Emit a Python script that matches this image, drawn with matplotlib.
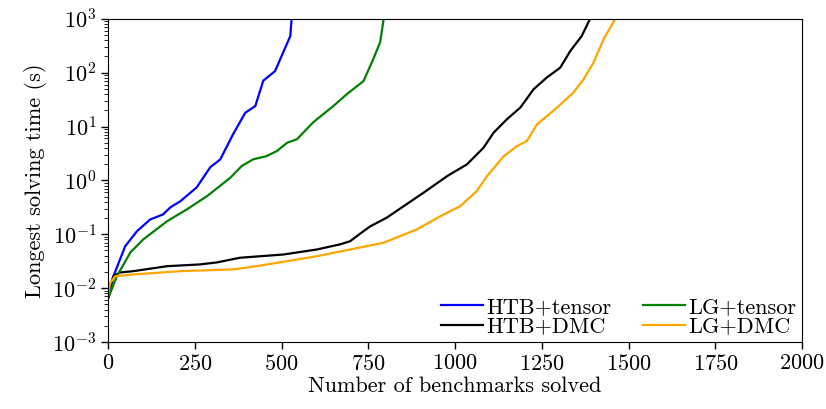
import matplotlib
matplotlib.use('Agg')
import matplotlib.pyplot as plt
import numpy as np

plt.rcParams['font.family'] = 'serif'
plt.rcParams['font.serif'] = ['cmr10', 'DejaVu Serif']
plt.rcParams['mathtext.fontset'] = 'cm'
plt.rcParams['axes.formatter.use_mathtext'] = True
plt.rcParams['axes.unicode_minus'] = False
plt.rcParams['font.size'] = 16

# 数据：从图上估读 (已解决数量, 最长求解时间 s)
htb_tensor_x = [0, 15, 49, 83, 121, 158, 179, 208, 255, 294, 323, 360, 395, 424, 447, 481, 500, 525, 529]
htb_tensor_y = [0.0065, 0.0166, 0.060, 0.114, 0.188, 0.233, 0.315, 0.41, 0.74, 1.75, 2.45, 7.2, 18, 24, 71, 107, 205, 480, 1100]

lg_tensor_x = [0, 25, 64, 101, 170, 227, 285, 352, 385, 418, 457, 486, 516, 544, 591, 649, 688, 736, 764, 784, 795]
lg_tensor_y = [0.0065, 0.0166, 0.046, 0.080, 0.175, 0.29, 0.51, 1.12, 1.85, 2.46, 2.83, 3.5, 5.0, 5.8, 12, 24, 40, 70, 178, 370, 1100]

htb_dmc_x = [0, 15, 34, 72, 170, 265, 314, 380, 505, 601, 669, 697, 736, 756, 803, 852, 909, 977, 1034,
             1082, 1111, 1149, 1188, 1226, 1264, 1303, 1332, 1365, 1392]
htb_dmc_y = [0.0085, 0.0166, 0.0195, 0.0206, 0.0255, 0.0275, 0.030, 0.0366, 0.042, 0.052, 0.065, 0.074, 0.114, 0.141,
             0.203, 0.333, 0.59, 1.2, 1.98, 4.05, 7.7, 13.6, 22.5, 49, 81, 124, 253, 480, 1100]

lg_dmc_x = [0, 6, 20, 72, 208, 360, 429, 516, 601, 697, 794, 890, 958, 1015, 1062, 1092, 1140, 1179, 1207,
            1236, 1283, 1341, 1370, 1399, 1428, 1465]
lg_dmc_y = [0.008, 0.0125, 0.0166, 0.0179, 0.0206, 0.0222, 0.0256, 0.0316, 0.039, 0.052, 0.0695, 0.123, 0.217,
            0.333, 0.63, 1.2, 2.8, 4.35, 5.4, 11, 19.5, 42.7, 75, 154, 417, 1100]

fig = plt.figure(figsize=(8.26, 4.09), dpi=100)
ax = fig.add_axes([0.131, 0.164, 0.840, 0.79])

ax.plot(htb_tensor_x, htb_tensor_y, color='blue', lw=1.6, label='HTB+tensor')
ax.plot(htb_dmc_x, htb_dmc_y, color='black', lw=1.6, label='HTB+DMC')
ax.plot(lg_tensor_x, lg_tensor_y, color='green', lw=1.6, label='LG+tensor')
ax.plot(lg_dmc_x, lg_dmc_y, color='orange', lw=1.6, label='LG+DMC')

ax.set_yscale('log')
ax.set_xlim(0, 2000)
ax.set_ylim(1e-3, 1e3)
ax.set_xticks(np.arange(0, 2001, 250))
ax.set_xlabel('Number of benchmarks solved', fontsize=16, labelpad=2)
ax.set_ylabel('Longest solving time (s)', fontsize=16, labelpad=4)
ax.tick_params(axis='both', which='major', direction='out', length=5, width=1, labelsize=16)
ax.tick_params(axis='both', which='minor', direction='out', length=3)

ax.legend(loc='lower right', ncol=2, frameon=False, fontsize=16,
          handlelength=1.9, handletextpad=0.15, labelspacing=0.0,
          columnspacing=1.4, borderaxespad=-0.15)

plt.savefig('out.png', dpi=100)
